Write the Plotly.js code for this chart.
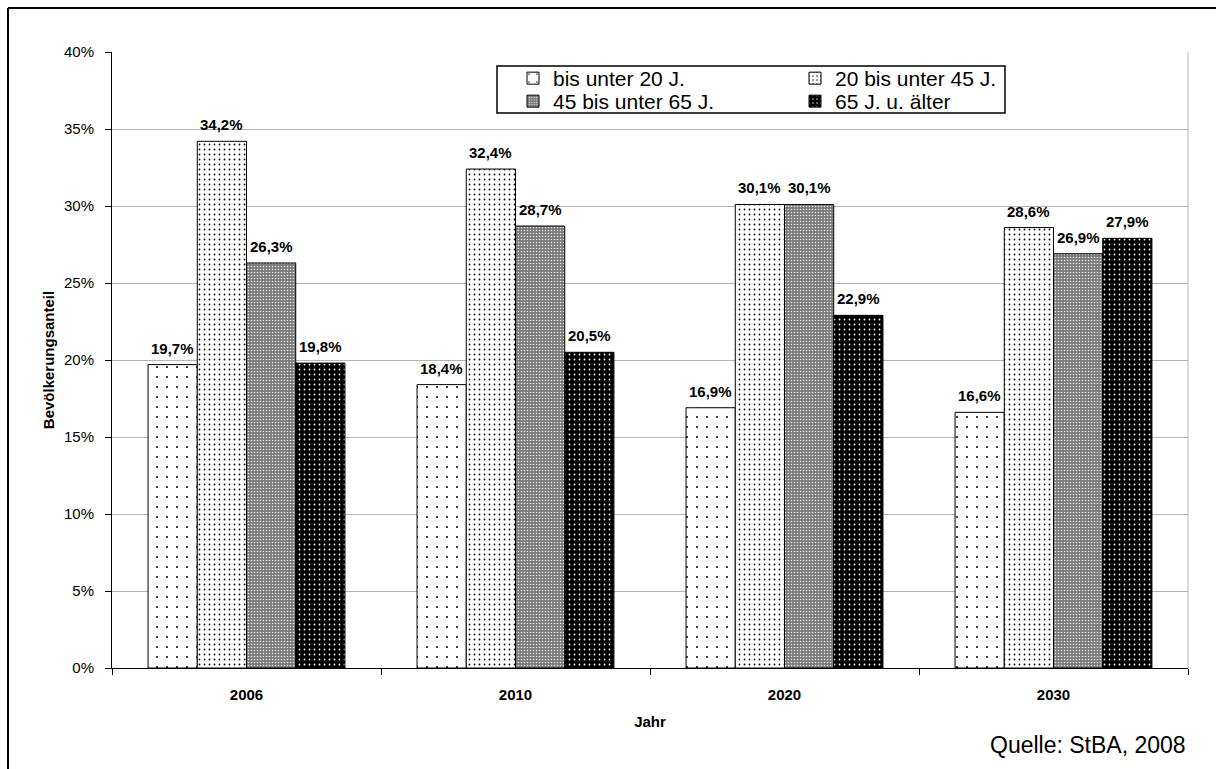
<!DOCTYPE html>
<html>
<head>
<meta charset="utf-8">
<script src="https://cdn.plot.ly/plotly-3.0.1.min.js"></script>
<style>
  html, body { margin: 0; padding: 0; background: #fff; }
  #chart { width: 1216px; height: 769px; }
</style>
</head>
<body>
<div id="chart"></div>
<script>
// Population share by age group (share of total, as fraction)
const years = ['2006', '2010', '2020', '2030'];
const seriesNames = ['bis unter 20 J.', '20 bis unter 45 J.', '45 bis unter 65 J.', '65 J. u. älter'];
const under20 = [0.197, 0.184, 0.169, 0.166];
const from20to45 = [0.342, 0.324, 0.301, 0.286];
const from45to65 = [0.263, 0.287, 0.301, 0.269];
const over65 = [0.198, 0.205, 0.229, 0.279];
const yTickVals = [0, 0.05, 0.10, 0.15, 0.20, 0.25, 0.30, 0.35, 0.40];

const FONT = 'Arial, "Liberation Sans", sans-serif';

// dotted fills in the style of classic office charts
const patterns = [
  { shape: '.', fgcolor: '#000000', bgcolor: '#ffffff', size: 10, solidity: 0.03, fillmode: 'replace' },
  { shape: '.', fgcolor: '#000000', bgcolor: '#ffffff', size: 5, solidity: 0.1, fillmode: 'replace' },
  { shape: '.', fgcolor: '#e8e8e8', bgcolor: '#7a7a7a', size: 3, solidity: 0.22, fillmode: 'replace' },
  { shape: '.', fgcolor: '#ffffff', bgcolor: '#000000', size: 5, solidity: 0.1, fillmode: 'replace' }
];
const legendOf = ['legend', 'legend2', 'legend3', 'legend4'];
const values = [under20, from20to45, from45to65, over65];

const traces = values.map((v, i) => ({
  type: 'bar',
  name: seriesNames[i],
  x: years,
  y: v,
  legend: legendOf[i],
  marker: {
    color: patterns[i].bgcolor,
    pattern: patterns[i],
    line: { color: '#000000', width: 1 }
  },
  hoverinfo: 'x+y+name'
}));

// pixel -> paper helpers for the fixed plot box
const L = 112, R = 1188, T = 52, B = 668;
const px = x => (x - L) / (R - L);
const py = y => (B - y) / (B - T);

const BARGAP = 0.268;
const nSeries = values.length;
const catWidth = (R - L) / years.length;
const barWidth = catWidth * (1 - BARGAP) / nSeries;

// value labels above each bar, centred on the bar of its series
const fmtPct = v => (v * 100).toFixed(1).replace('.', ',') + '%';
const labels = [];
values.forEach((v, i) => {
  const shift = (i - (nSeries - 1) / 2) * barWidth;
  v.forEach((val, j) => {
    labels.push({
      text: fmtPct(val), xref: 'x', yref: 'y', x: j, y: val,
      xanchor: 'center', yanchor: 'bottom', xshift: shift, yshift: 6,
      showarrow: false,
      font: { family: FONT, size: 15, weight: 'bold', color: '#000000' }
    });
  });
});

const legendBase = {
  xanchor: 'left', yanchor: 'top', orientation: 'v',
  bgcolor: 'rgba(0,0,0,0)', borderwidth: 0, itemwidth: 30,
  font: { family: FONT, size: 21, color: '#000000' }
};

const layout = {
  width: 1216,
  height: 769,
  margin: { l: L, r: 1216 - R, t: T, b: 769 - B, pad: 0 },
  paper_bgcolor: '#ffffff',
  plot_bgcolor: '#ffffff',
  separators: ',.',
  font: { family: FONT, color: '#000000' },
  barmode: 'group',
  bargap: BARGAP,
  bargroupgap: 0,
  showlegend: true,
  xaxis: {
    type: 'category',
    categoryarray: years,
    range: [-0.5, years.length - 0.5],
    autorange: false,
    tickson: 'boundaries',
    ticks: 'outside',
    ticklen: 6,
    tickcolor: '#000000',
    tickangle: 0,
    showline: true,
    linecolor: '#000000',
    linewidth: 1,
    showgrid: false,
    zeroline: false,
    tickfont: { family: FONT, size: 15, weight: 'bold' },
    ticklabelstandoff: 13,
    title: { text: 'Jahr', font: { family: FONT, size: 15, weight: 'bold' }, standoff: 14 },
    automargin: true,
    fixedrange: true
  },
  yaxis: {
    range: [0, 0.4],
    autorange: false,
    tickvals: yTickVals,
    tickformat: '.0%',
    ticks: 'outside',
    ticklen: 6,
    tickcolor: '#000000',
    showline: true,
    linecolor: '#000000',
    linewidth: 1,
    showgrid: true,
    gridcolor: '#b4b4b4',
    gridwidth: 1,
    zeroline: false,
    tickfont: { family: FONT, size: 15 },
    ticklabelstandoff: 8,
    title: { text: 'Bevölkerungsanteil', font: { family: FONT, size: 15, weight: 'bold' }, standoff: 5 },
    automargin: true,
    fixedrange: true
  },
  legend: Object.assign({}, legendBase, { x: px(513), y: py(58) }),
  legend2: Object.assign({}, legendBase, { x: px(795), y: py(58) }),
  legend3: Object.assign({}, legendBase, { x: px(513), y: py(81) }),
  legend4: Object.assign({}, legendBase, { x: px(795), y: py(81) }),
  shapes: [
    // legend frame
    { type: 'rect', xref: 'paper', yref: 'paper', x0: px(497), x1: px(1005), y0: py(113), y1: py(66),
      line: { color: '#000000', width: 1.5 }, fillcolor: '#ffffff', layer: 'below' },
    // plot area right edge
    { type: 'line', xref: 'paper', yref: 'paper', x0: 1, x1: 1, y0: 0, y1: 1,
      line: { color: '#b4b4b4', width: 1 }, layer: 'below' },
    // chart frame (left and top)
    { type: 'line', xref: 'paper', yref: 'paper', x0: px(8), x1: px(8), y0: py(8), y1: py(800),
      line: { color: '#000000', width: 2 } },
    { type: 'line', xref: 'paper', yref: 'paper', x0: px(8), x1: px(1240), y0: py(8), y1: py(8),
      line: { color: '#000000', width: 2 } }
  ],
  annotations: labels.concat([
    { text: 'Quelle: StBA, 2008', xref: 'paper', yref: 'paper', x: 1, xanchor: 'right',
      y: py(745), yanchor: 'middle', showarrow: false,
      font: { family: FONT, size: 23, color: '#000000' } }
  ])
};

Plotly.newPlot('chart', traces, layout, { displayModeBar: false, staticPlot: true });
</script>
</body>
</html>
